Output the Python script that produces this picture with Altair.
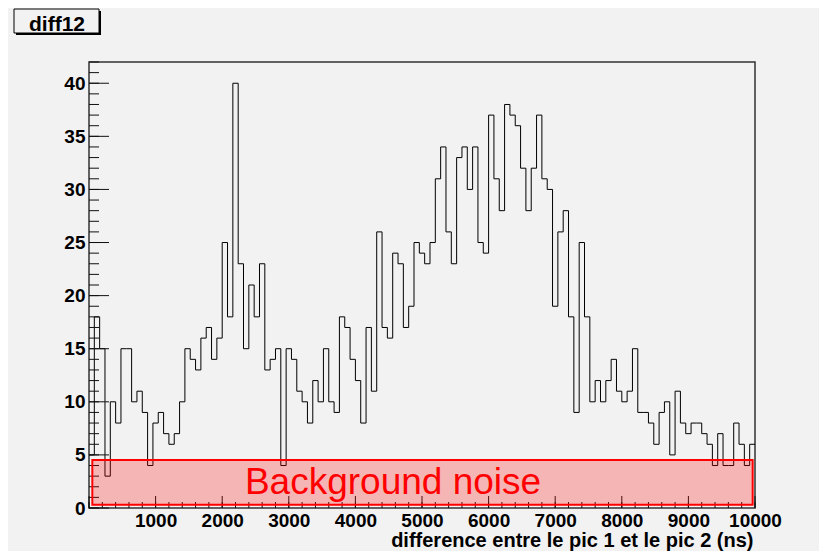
import altair as alt
import numpy as np
import pandas as pd

# ---- data (125 bins of 80 ns, 0..10000 ns) ----
bin_width = 80
counts = [5, 18, 15, 3, 10, 8, 15, 15, 10, 11,
          9, 4, 8, 9, 7, 6, 7, 10, 15, 14,
          13, 16, 17, 14, 16, 25, 18, 40, 23, 15,
          21, 18, 23, 13, 14, 15, 4, 15, 14, 11,
          10, 8, 12, 10, 15, 10, 9, 18, 17, 14,
          12, 8, 17, 11, 26, 17, 16, 24, 23, 17,
          19, 25, 24, 23, 25, 31, 34, 26, 23, 33,
          34, 30, 34, 25, 24, 37, 31, 28, 38, 37,
          36, 32, 28, 32, 37, 31, 30, 19, 26, 28,
          18, 9, 25, 18, 10, 12, 10, 12, 14, 11,
          10, 11, 15, 9, 9, 8, 6, 9, 10, 5,
          11, 8, 7, 8, 8, 7, 6, 4, 7, 4,
          4, 8, 6, 4, 6]

x_labels = [1000, 2000, 3000, 4000, 5000, 6000, 7000, 8000, 9000, 10000]
y_labels = [0, 5, 10, 15, 20, 25, 30, 35, 40]
x_minor = list(range(0, 10001, 200))
x_major = list(range(0, 10001, 1000))
y_minor = list(range(0, 43, 1))
y_major = y_labels

box_x = [50]
box_x2 = [9965]
box_y = [0.31]
box_y2 = [4.52]
box_text = ["Background noise"]
text_x = [4565]
text_y = [1.32]

title_text = "diff12"
x_title = "difference entre le pic 1 et le pic 2 (ns)"

FONT = "Liberation Sans"
W, H = 666, 446

edges = np.arange(len(counts) + 1) * bin_width
hist = pd.DataFrame({"x": edges, "y": counts + [counts[-1]]})

xs = alt.Scale(domain=[0, 10000], nice=False, zero=False)
ys = alt.Scale(domain=[0, 42], nice=False, zero=False)

x_axis = alt.Axis(values=x_labels, format="d", domain=False, ticks=False, grid=False,
                  labelFont=FONT, labelFontSize=19, labelFontWeight="bold", labelColor="black",
                  labelPadding=3, labelFlush=False, labelOverlap=False,
                  title=x_title, titleFont=FONT, titleFontSize=20, titleFontWeight="bold",
                  titleColor="black", titleAlign="right", titleAnchor="end",
                  titleX=664, titleY=38, titleBaseline="alphabetic")
y_axis = alt.Axis(values=y_labels, format="d", domain=False, ticks=False, grid=False,
                  labelFont=FONT, labelFontSize=19, labelFontWeight="bold", labelColor="black",
                  labelPadding=4, labelFlush=False, labelOverlap=False, title=None)


def X(field):
    return alt.X(field, type="quantitative", scale=xs, axis=x_axis)


def Y(field):
    return alt.Y(field, type="quantitative", scale=ys, axis=y_axis)


line = alt.Chart(hist).mark_line(interpolate="step-after", color="black", strokeWidth=1).encode(
    x=X("x"), y=Y("y"))

ytm = alt.Chart(pd.DataFrame({"y": y_minor})).mark_rule(color="#111", strokeWidth=1).encode(
    y=Y("y"), x=alt.value(0), x2=alt.value(10))
ytM = alt.Chart(pd.DataFrame({"y": y_major})).mark_rule(color="#111", strokeWidth=1).encode(
    y=Y("y"), x=alt.value(0), x2=alt.value(20))
xtm = alt.Chart(pd.DataFrame({"x": x_minor})).mark_rule(color="#111", strokeWidth=1).encode(
    x=X("x"), y=alt.value(H), y2=alt.value(H - 6))
xtM = alt.Chart(pd.DataFrame({"x": x_major})).mark_rule(color="#111", strokeWidth=1).encode(
    x=X("x"), y=alt.value(H), y2=alt.value(H - 12))

box_df = pd.DataFrame({"x": box_x, "x2": box_x2, "y": box_y, "y2": box_y2})
box = alt.Chart(box_df).mark_rect(fill="#ff0000", fillOpacity=0.25, stroke="#ff0000",
                                  strokeWidth=2).encode(
    x=X("x"), x2="x2", y=Y("y"), y2="y2")

txt_df = pd.DataFrame({"x": text_x, "y": text_y, "t": box_text})
txt = alt.Chart(txt_df).mark_text(font=FONT, fontSize=37, color="#ff0000", align="center",
                                  baseline="alphabetic").encode(
    x=X("x"), y=Y("y"), text="t:N")

tb_df = pd.DataFrame({"t": [title_text]})
shadow = alt.Chart(tb_df).mark_rect(fill="black").encode(
    x=alt.value(-73), x2=alt.value(12), y=alt.value(-51), y2=alt.value(-27))
tbox = alt.Chart(tb_df).mark_rect(fill="#f2f2f2", stroke="black", strokeWidth=1).encode(
    x=alt.value(-75), x2=alt.value(10), y=alt.value(-53), y2=alt.value(-29))
ttxt = alt.Chart(tb_df).mark_text(font=FONT, fontSize=21, fontWeight="bold", color="black",
                                  align="center", baseline="alphabetic").encode(
    x=alt.value(-32), y=alt.value(-31), text="t:N")

chart = alt.layer(line, ytm, ytM, xtm, xtM, box, txt, shadow, tbox, ttxt).properties(
    width=W, height=H,
    autosize=alt.AutoSizeParams(type="none"),
    padding={"left": 81, "top": 54, "right": 64, "bottom": 43},
    background="#f2f2f2",
).configure_view(stroke="#333333", strokeWidth=1.5, fill="#f2f2f2")

chart.save("out.html", embed_options={"renderer": "svg", "actions": False})
